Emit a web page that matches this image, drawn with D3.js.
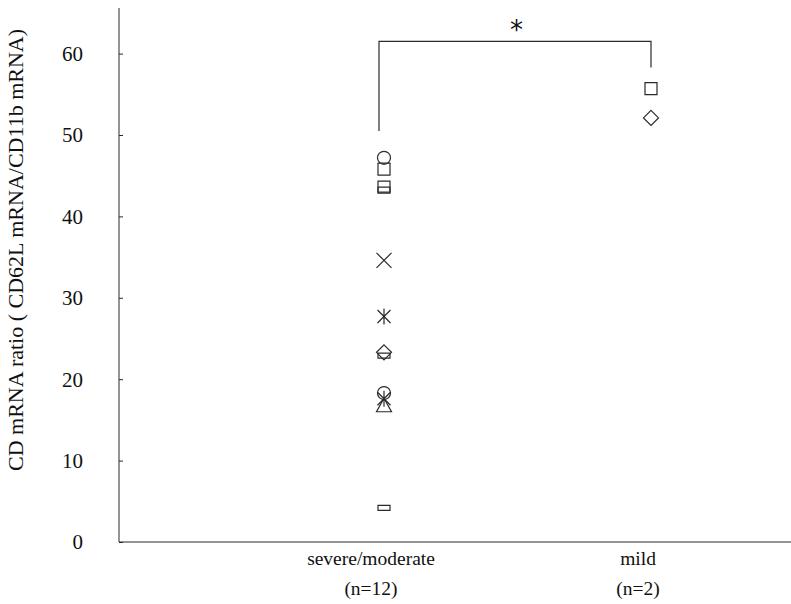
<!DOCTYPE html>
<html>
<head>
<meta charset="utf-8">
<script src="https://cdn.jsdelivr.net/npm/d3@7"></script>
<style>
	body { margin: 0; background: #fff; }
	svg { display: block; font-family: 'Liberation Serif', 'DejaVu Serif', serif; }
</style>
</head>
<body>
<svg width="791" height="604"></svg>
<script>
const groups = ['severe/moderate', 'mild']
const groupN = ['(n=12)', '(n=2)']

// one row per patient: group, value, marker shape
const severeValues = [47.2, 45.8, 43.6, 43.3, 34.6, 27.7, 23.3, 22.9, 18.3, 17.6, 16.8, 4.2]
const severeShapes = ['circle', 'square', 'square', 'flat', 'cross', 'star', 'diamond', 'flat', 'circle', 'star', 'triangle', 'flat']
const mildValues = [55.7, 52.1]
const mildShapes = ['square', 'diamond']

const yTicks = [0, 10, 20, 30, 40, 50, 60]
const bracket = { from: 'severe/moderate', to: 'mild', leftEnd: 50.5, rightEnd: 58.3, top: 61.5, label: '*' }

const points = [
	...severeValues.map((v, i) => ({ g: groups[0], v: v, shape: severeShapes[i] })),
	...mildValues.map((v, i) => ({ g: groups[1], v: v, shape: mildShapes[i] }))
]

let svg = d3.select('svg')
const ink = '#2a2a2a'

let x = d3.scalePoint().domain(groups).range([384, 651])
let y = d3.scaleLinear().domain([0, 65.6]).range([542, 8])

// axes
let yAxis = svg.append('g')
	.attr('transform', 'translate(119,0)')
	.call(d3.axisRight(y).tickValues(yTicks).tickSize(4).tickFormat(''))
yAxis.select('.domain').attr('d', `M0,${y(65.6)}V${y(0)}`)
yAxis.selectAll('line, path').attr('stroke', ink)

svg.append('g')
	.selectAll('text')
	.data(yTicks).enter()
	.append('text')
	.attr('x', 83)
	.attr('y', d => y(d))
	.attr('dy', '0.35em')
	.attr('text-anchor', 'end')
	.attr('font-size', 21)
	.attr('fill', '#111')
	.text(d => d)

svg.append('line')
	.attr('x1', 119).attr('x2', 791)
	.attr('y1', y(0)).attr('y2', y(0))
	.attr('stroke', ink)

svg.append('text')
	.attr('transform', `translate(23,${(y(0) + y(65.6)) / 2 - 25}) rotate(-90)`)
	.attr('text-anchor', 'middle')
	.attr('font-size', 22)
	.attr('fill', '#111')
	.text('CD mRNA ratio ( CD62L mRNA/CD11b mRNA)')

let cats = svg.append('g')
	.selectAll('g')
	.data(groups).enter()
	.append('g')
	.attr('transform', d => `translate(${x(d) - 13},0)`)
cats.append('text')
	.attr('y', 565)
	.attr('text-anchor', 'middle')
	.attr('font-size', 19.5)
	.attr('fill', '#111')
	.text(d => d)
cats.append('text')
	.attr('y', 595)
	.attr('text-anchor', 'middle')
	.attr('font-size', 19.5)
	.attr('fill', '#111')
	.text((d, i) => groupN[i])

// significance bracket
svg.append('path')
	.attr('fill', 'none')
	.attr('stroke', ink)
	.attr('stroke-width', 1.2)
	.attr('d', `M${x(bracket.from) - 5},${y(bracket.leftEnd)}V${y(bracket.top)}H${x(bracket.to)}V${y(bracket.rightEnd)}`)
svg.append('text')
	.attr('x', (x(bracket.from) + x(bracket.to)) / 2 - 1)
	.attr('y', y(bracket.top) - 2)
	.attr('text-anchor', 'middle')
	.attr('font-size', 26)
	.attr('font-family', 'DejaVu Sans')
	.attr('fill', '#111')
	.text(bracket.label)

// markers
const shapes = {
	circle: 'M-6.5,0a6.5,6.5 0 1,0 13,0a6.5,6.5 0 1,0 -13,0',
	square: 'M-6,-6h12v12h-12z',
	flat: 'M-6,-2.5h12v5h-12z',
	cross: 'M-7.5,-7.5L7.5,7.5M-7.5,7.5L7.5,-7.5',
	star: 'M0,-8V8M-6.5,-6.5L6.5,6.5M-6.5,6.5L6.5,-6.5',
	diamond: 'M0,-7.5L7.5,0L0,7.5L-7.5,0z',
	triangle: 'M0,-7L7.5,6.5H-7.5z'
}

svg.append('g')
	.selectAll('path')
	.data(points).enter()
	.append('path')
	.attr('transform', d => `translate(${x(d.g)},${y(d.v)})`)
	.attr('d', d => shapes[d.shape])
	.attr('fill', 'none')
	.attr('stroke', ink)
	.attr('stroke-width', 1.2)
</script>
</body>
</html>
